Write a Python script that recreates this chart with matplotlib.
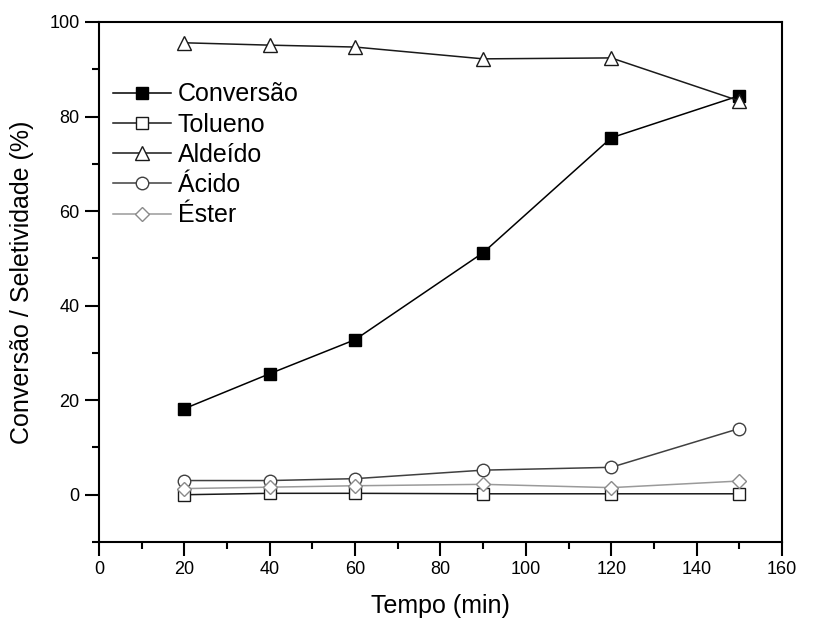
import matplotlib
matplotlib.use("Agg")
from matplotlib import pyplot as plt
from matplotlib.ticker import MultipleLocator

plt.rcParams['font.family'] = ['Liberation Sans', 'DejaVu Sans']

tempo = [20, 40, 60, 90, 120, 150]
conversao = [18.2, 25.6, 32.8, 51.2, 75.5, 84.4]
tolueno = [0.0, 0.3, 0.3, 0.2, 0.2, 0.2]
aldeido = [95.6, 95.1, 94.7, 92.2, 92.4, 83.3]
acido = [3.0, 3.0, 3.4, 5.2, 5.8, 14.0]
ester = [1.3, 1.6, 1.9, 2.2, 1.5, 2.9]

fig = plt.figure(figsize=(8.22, 6.21), dpi=100)
ax = fig.add_axes([0.1204, 0.1272, 0.8309, 0.8374])

# (label, values, marker, line colour, face colour, edge colour)
series = [
    ("Conversão", conversao, "s", "black", "black", "black"),
    ("Tolueno", tolueno, "s", "#1a1a1a", "white", "#1a1a1a"),
    ("Aldeído", aldeido, "^", "#1a1a1a", "white", "#1a1a1a"),
    ("Ácido", acido, "o", "#404040", "white", "#404040"),
    ("Éster", ester, "D", "#9a9a9a", "white", "#8a8a8a"),
]

for label, vals, mk, lc, fc, ec in series:
    ms = 7 if mk == "D" else 9
    if mk == "^":
        ms = 10
    ax.plot(tempo, vals, color=lc, lw=1.1, marker=mk, ms=ms,
            mfc=fc, mec=ec, mew=1.0, label=label)

ax.set_xlim(0, 160)
ax.set_ylim(-10, 100)
ax.xaxis.set_major_locator(MultipleLocator(20))
ax.xaxis.set_minor_locator(MultipleLocator(10))
ax.yaxis.set_major_locator(MultipleLocator(20))
ax.yaxis.set_minor_locator(MultipleLocator(10))
ax.tick_params(which="major", direction="out", length=10, width=1.5,
               labelsize=13, pad=4)
ax.tick_params(which="minor", direction="out", length=5, width=1.5)
for sp in ax.spines.values():
    sp.set_linewidth(1.5)

ax.set_xlabel("Tempo (min)", fontsize=18, labelpad=11)
ax.set_ylabel("Conversão / Seletividade (%)", fontsize=18, labelpad=11)

ax.legend(loc="upper left", bbox_to_anchor=(0.006, 0.903), frameon=False,
          fontsize=18, handlelength=2.3, handletextpad=0.28,
          labelspacing=0.25, borderaxespad=0.0)

fig.savefig("out.png", dpi=100)
